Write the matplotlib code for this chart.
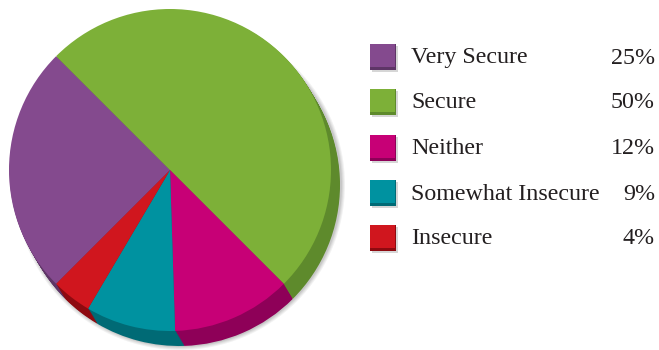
import matplotlib.pyplot as plt
from matplotlib.patches import Rectangle, Circle

labels = ["Very Secure", "Secure", "Neither", "Somewhat Insecure", "Insecure"]
shares = [25, 50, 12, 9, 4]
face_colors = ["#844a8e", "#7db038", "#c70076", "#0092a0", "#d0161e"]
side_colors = ["#5e3566", "#5e8a2c", "#8e0058", "#006a75", "#8e0a10"]

serif = ["Liberation Serif", "DejaVu Serif"]

fig = plt.figure(figsize=(6.59, 3.5), dpi=100)
ax = fig.add_axes([0, 0, 1, 1])

cx, cy, r = 170, 180, 161

# soft shadow under the disc
for k, a in enumerate([0.05, 0.05, 0.06, 0.07]):
    ax.add_patch(Circle((cx + 10, cy - 15), r + 4 - k, color="black", alpha=a, lw=0))

# disc thickness: darker copies stepped toward the lower right
steps = 14
for i in range(steps, 0, -1):
    ax.pie(shares, colors=side_colors, startangle=225, counterclock=False,
           radius=r, center=(cx + 9 * i / steps, cy - 15 * i / steps),
           wedgeprops=dict(linewidth=0))

ax.pie(shares, colors=face_colors, startangle=225, counterclock=False,
       radius=r, center=(cx, cy), wedgeprops=dict(linewidth=0))

# legend rows
row_y = [57, 102, 148, 193, 238]
for lab, val, fc, sc, y in zip(labels, shares, face_colors, side_colors, row_y):
    yy = 350 - y
    ax.add_patch(Rectangle((372, yy - 15), 26, 26, color="#999999", alpha=0.4, lw=0))
    ax.add_patch(Rectangle((370, yy - 13), 26, 26, color=sc, lw=0))
    ax.add_patch(Rectangle((370, yy - 10), 25, 23, color=fc, lw=0))
    ax.text(411, yy - 1, lab, fontsize=17.3, family=serif, color="#231f20",
            va="center", ha="left")
    ax.text(655, yy - 1, f"{val}%", fontsize=17.3, family=serif, color="#231f20",
            va="center", ha="right")

ax.set_xlim(0, 659)
ax.set_ylim(0, 350)
ax.set_aspect("equal")
ax.axis("off")

fig.savefig("out.png", dpi=100)
